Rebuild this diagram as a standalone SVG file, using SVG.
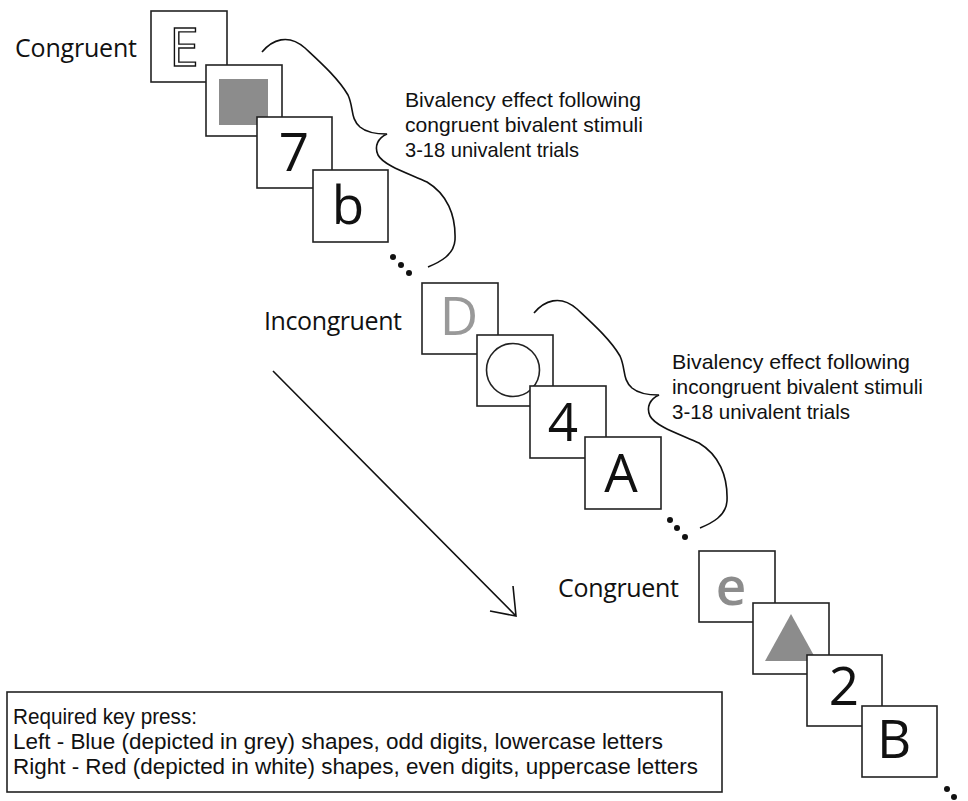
<svg xmlns="http://www.w3.org/2000/svg" xmlns:xlink="http://www.w3.org/1999/xlink" width="968" height="801" viewBox="0 0 968 801">
<style>
.box{fill:#fff;stroke:#222;stroke-width:1.6}
.lbl{font-family:"Open Sans","Noto Sans",sans-serif;font-size:25px;fill:#111}
.note{font-family:"Liberation Sans",Arial,sans-serif;font-size:21px;fill:#111}
.key{font-family:"Liberation Sans",Arial,sans-serif;font-size:22px;fill:#111}
.big{font-family:"Open Sans","Noto Sans",sans-serif;font-size:53px;fill:#111;text-anchor:middle}
.line{fill:none;stroke:#111;stroke-width:1.6}
.dot{fill:#111}
</style>
<defs>
<path id="brace" d="M262,52 C272,40 288,33 305,48 C320,62 338,78 348,95 C354,108 350,118 360,127 C367,133 378,134 387,134 C378,138 374,146 378,155 C384,166 410,174 427,182 C447,194 456,215 455,240 C454,255 440,262 428,267"/>
</defs>
<g id="connectors">
<use xlink:href="#brace" class="line"/>
<use xlink:href="#brace" class="line" transform="translate(272,261)"/>
<path class="line" d="M273,371 L516,616 M513,586 L516,616 L490,611"/>
<circle class="dot" cx="393" cy="257" r="3"/>
<circle class="dot" cx="401" cy="265" r="3"/>
<circle class="dot" cx="409" cy="273" r="3"/>
<circle class="dot" cx="670" cy="520" r="3"/>
<circle class="dot" cx="677" cy="528" r="3"/>
<circle class="dot" cx="685" cy="537" r="3"/>
<circle class="dot" cx="947" cy="789" r="3"/>
<circle class="dot" cx="954" cy="797" r="3"/>
</g>
<g id="label-congruent-1"><text class="lbl" x="15" y="57" textLength="122">Congruent</text></g>
<g id="label-incongruent"><text class="lbl" x="264" y="330" textLength="138">Incongruent</text></g>
<g id="label-congruent-2"><text class="lbl" x="558" y="597" textLength="121">Congruent</text></g>
<g id="note-1">
<text class="note" x="405" y="107" textLength="236" lengthAdjust="spacingAndGlyphs">Bivalency effect following</text>
<text class="note" x="405" y="132" textLength="238" lengthAdjust="spacingAndGlyphs">congruent bivalent stimuli</text>
<text class="note" x="405" y="157" textLength="174" lengthAdjust="spacingAndGlyphs">3-18 univalent trials</text>
</g>
<g id="note-2">
<text class="note" x="672" y="369" textLength="238" lengthAdjust="spacingAndGlyphs">Bivalency effect following</text>
<text class="note" x="672" y="394" textLength="251" lengthAdjust="spacingAndGlyphs">incongruent bivalent stimuli</text>
<text class="note" x="672" y="419" textLength="178" lengthAdjust="spacingAndGlyphs">3-18 univalent trials</text>
</g>
<g id="stim-E"><rect class="box" x="151" y="11" width="76" height="71"/><text class="big" x="184" y="66" style="fill:#fff;stroke:#111;stroke-width:1.4">E</text></g>
<g id="stim-square"><rect class="box" x="206" y="65" width="76" height="71"/><rect x="219" y="79" width="49" height="46" fill="#8c8c8c"/></g>
<g id="stim-7"><rect class="box" x="257" y="117" width="75" height="71"/><text class="big" x="294" y="171">7</text></g>
<g id="stim-b"><rect class="box" x="313" y="170" width="75" height="72"/><text class="big" x="348" y="224">b</text></g>
<g id="stim-D"><rect class="box" x="422" y="283" width="76" height="71"/><text class="big" x="459" y="335" style="fill:#999">D</text></g>
<g id="stim-circle"><rect class="box" x="477" y="335" width="76" height="71"/><circle cx="513" cy="370" r="26.5" fill="#fff" stroke="#222" stroke-width="1.6"/></g>
<g id="stim-4"><rect class="box" x="530" y="386" width="76" height="72"/><text class="big" x="563" y="441">4</text></g>
<g id="stim-A"><rect class="box" x="585" y="437" width="76" height="72"/><text class="big" x="621" y="492">A</text></g>
<g id="stim-e"><rect class="box" x="699" y="551" width="76" height="71"/><text class="big" x="731" y="605" style="fill:#8c8c8c;font-weight:600">e</text></g>
<g id="stim-triangle"><rect class="box" x="753" y="603" width="76" height="71"/><polygon points="791,614 765,661 817,661" fill="#8c8c8c"/></g>
<g id="stim-2"><rect class="box" x="807" y="655" width="75" height="71"/><text class="big" x="844" y="705">2</text></g>
<g id="stim-B"><rect class="box" x="862" y="706" width="75" height="71"/><text class="big" x="894" y="758">B</text></g>
<g id="key-box">
<rect class="box" x="7" y="692" width="715" height="100"/>
<text class="key" x="13" y="724" textLength="184" lengthAdjust="spacingAndGlyphs">Required key press:</text>
<text class="key" x="13" y="749" textLength="650" lengthAdjust="spacingAndGlyphs">Left - Blue (depicted in grey) shapes, odd digits, lowercase letters</text>
<text class="key" x="13" y="774" textLength="685" lengthAdjust="spacingAndGlyphs">Right - Red (depicted in white) shapes, even digits, uppercase letters</text>
</g>
</svg>
